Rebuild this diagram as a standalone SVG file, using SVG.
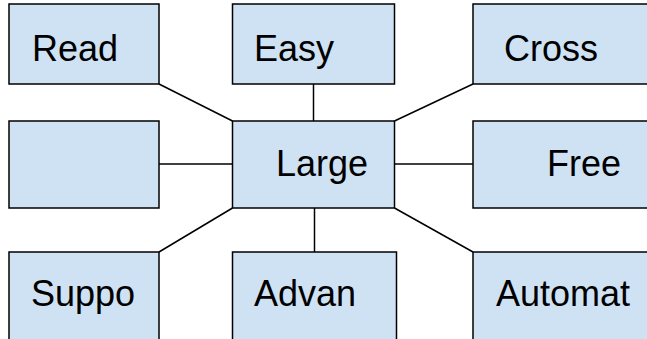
<svg xmlns="http://www.w3.org/2000/svg" width="647" height="339" viewBox="0 0 647 339">
<style>
.box{fill:#cfe2f3;stroke:#000;stroke-width:1.5}
.lbl{font-family:"Liberation Sans",Arial,sans-serif;font-size:36px;fill:#000}
.edge{stroke:#000;stroke-width:1.5;fill:none}
</style>
<rect width="647" height="339" fill="#fff"/>
<g id="connectors">
<line class="edge" x1="159" y1="84" x2="232.5" y2="121"/>
<line class="edge" x1="313.5" y1="84" x2="313.5" y2="121"/>
<line class="edge" x1="473" y1="84" x2="394.5" y2="121"/>
<line class="edge" x1="159" y1="164" x2="232.5" y2="164"/>
<line class="edge" x1="394.5" y1="164" x2="473" y2="164"/>
<line class="edge" x1="159" y1="252" x2="232.5" y2="208"/>
<line class="edge" x1="314.5" y1="208" x2="314.5" y2="252"/>
<line class="edge" x1="394.5" y1="208" x2="473" y2="252"/>
</g>
<g id="read"><rect class="box" x="9" y="4" width="150" height="80"/><text class="lbl" x="32" y="61">Read</text></g>
<g id="easy"><rect class="box" x="232.5" y="4" width="162" height="80"/><text class="lbl" x="254" y="61">Easy</text></g>
<g id="cross"><rect class="box" x="473" y="4" width="185" height="80"/><text class="lbl" x="504" y="61">Cross</text></g>
<g id="empty"><rect class="box" x="9" y="121" width="150" height="87"/></g>
<g id="large"><rect class="box" x="232.5" y="121" width="162" height="87"/><text class="lbl" x="276" y="176">Large</text></g>
<g id="free"><rect class="box" x="473" y="121" width="185" height="87"/><text class="lbl" x="547" y="176">Free</text></g>
<g id="suppo"><rect class="box" x="9" y="252" width="150" height="100"/><text class="lbl" x="31" y="306">Suppo</text></g>
<g id="advan"><rect class="box" x="232.5" y="252" width="164" height="100"/><text class="lbl" x="254" y="306">Advan</text></g>
<g id="automat"><rect class="box" x="473" y="252" width="185" height="100"/><text class="lbl" x="496" y="306">Automat</text></g>
</svg>
